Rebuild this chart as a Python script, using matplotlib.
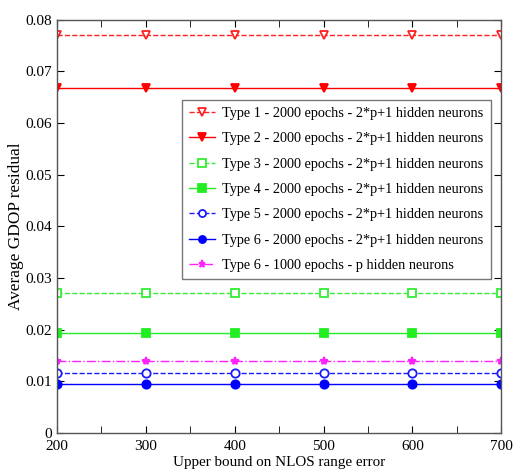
import numpy as np
import matplotlib.pyplot as plt

plt.rcParams['font.family'] = ['Liberation Serif', 'DejaVu Serif']

nlos_bound = [200, 300, 400, 500, 600, 700]
labels = [
    'Type 1 - 2000 epochs - 2*p+1 hidden neurons',
    'Type 2 - 2000 epochs - 2*p+1 hidden neurons',
    'Type 3 - 2000 epochs - 2*p+1 hidden neurons',
    'Type 4 - 2000 epochs - 2*p+1 hidden neurons',
    'Type 5 - 2000 epochs - 2*p+1 hidden neurons',
    'Type 6 - 2000 epochs - 2*p+1 hidden neurons',
    'Type 6 - 1000 epochs - p hidden neurons',
]
gdop = [
    [0.0770] * 6,
    [0.0667] * 6,
    [0.0271] * 6,
    [0.0193] * 6,
    [0.0116] * 6,
    [0.0094] * 6,
    [0.0140] * 6,
]

styles = [
    dict(color='#ff2020', ls='--', marker='v', mfc='white'),
    dict(color='#ff0000', ls='-', marker='v', mfc='#ff0000'),
    dict(color='#33ee33', ls='--', marker='s', mfc='white'),
    dict(color='#22ee22', ls='-', marker='s', mfc='#22ee22'),
    dict(color='#1a1aff', ls='--', marker='o', mfc='white'),
    dict(color='#0000ff', ls='-', marker='o', mfc='#0000ff'),
    dict(color='#ff22ff', ls='-.', marker='*', mfc='#ff22ff'),
]

fig = plt.figure(figsize=(5.14, 4.71), dpi=100)
ax = fig.add_axes([0.111, 0.081, 0.864, 0.877])

for vals, lab, st in zip(gdop, labels, styles):
    ax.plot(nlos_bound, vals, lw=1.0, ms=6, mew=1.3, label=lab, **st)

ax.set_xlim(200, 700)
ax.set_ylim(0, 0.08)
ax.set_xticks([200, 300, 400, 500, 600, 700])
ax.set_xticks(np.arange(250, 700, 100), minor=True)
ax.set_yticks(np.arange(0, 0.081, 0.01))
ax.set_yticklabels(['0', '0.01', '0.02', '0.03', '0.04', '0.05', '0.06', '0.07', '0.08'])
ax.tick_params(which='both', axis='x', direction='in', length=5, top=True,
               labelsize=11, pad=5)
ax.tick_params(axis='y', direction='in', length=5, right=True, labelsize=11)
for s in ax.spines.values():
    s.set_color('#555555')
    s.set_linewidth(1.0)

ax.set_xlabel('Upper bound on NLOS range error', fontsize=10.9, labelpad=2)
ax.set_ylabel('Average GDOP residual', fontsize=12.4, labelpad=1)

leg = ax.legend(loc='upper left', bbox_to_anchor=(0.2815, 0.806), fontsize=10.3,
                frameon=True, fancybox=False, edgecolor='#555555',
                handlelength=1.8, handletextpad=0.5, labelspacing=0.86,
                borderpad=0.5, borderaxespad=0, markerscale=0.85)
leg.get_frame().set_linewidth(1.0)

fig.savefig('out.png', dpi=100)
